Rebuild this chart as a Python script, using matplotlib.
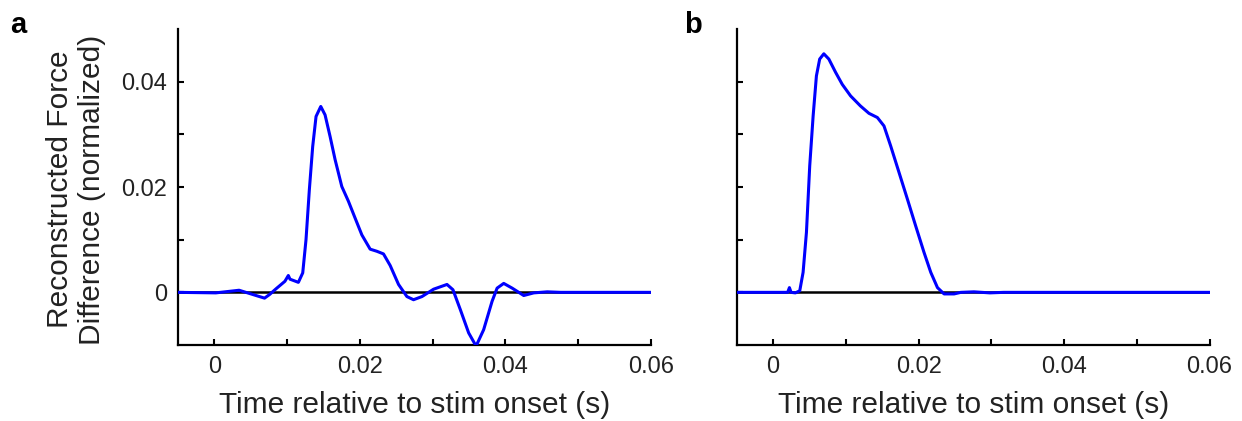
import numpy as np
import matplotlib
matplotlib.use('Agg')
import matplotlib.pyplot as plt

plt.rcParams['font.family'] = ['Liberation Sans', 'DejaVu Sans']

# ---------------------------------------------------------
# Datos (tiempo en s, fuerza normalizada)
# ---------------------------------------------------------
t_a = [-0.005, 0.0002, 0.0034, 0.0069, 0.0076, 0.0085, 0.0097, 0.01017, 0.0104,
       0.01155, 0.01215, 0.0126, 0.01306, 0.01352, 0.01398, 0.01463, 0.01522,
       0.01591, 0.0166, 0.01752, 0.01843, 0.01935, 0.02028, 0.02142, 0.02234,
       0.02325, 0.02417, 0.02532, 0.02647, 0.02738, 0.02854, 0.03014, 0.03198,
       0.0328, 0.03382, 0.03496, 0.03598, 0.03702, 0.03818, 0.03887, 0.03978,
       0.04094, 0.04253, 0.04391, 0.04576, 0.0476, 0.06]
f_a = [0.0, -0.0001, 0.0004, -0.0011, -0.0004, 0.0007, 0.0021, 0.0032, 0.0025,
       0.0019, 0.0037, 0.0100, 0.0195, 0.0277, 0.0334, 0.0353, 0.0337,
       0.0296, 0.0252, 0.0201, 0.0173, 0.0141, 0.0109, 0.0082, 0.0078,
       0.0073, 0.0051, 0.0015, -0.0008, -0.0014, -0.0008, 0.0006, 0.0015,
       0.0005, -0.0033, -0.0077, -0.0102, -0.0071, -0.0017, 0.0008, 0.0017,
       0.0008, -0.0006, -0.0001, 0.0001, 0.0, 0.0]

t_b = [-0.005, 0.0010, 0.0020, 0.00224, 0.00247, 0.00306, 0.00366, 0.00412,
       0.00458, 0.00503, 0.0055, 0.00595, 0.0064, 0.00697, 0.00766, 0.00858,
       0.0095, 0.01065, 0.012, 0.01317, 0.01433, 0.01524, 0.01616, 0.0173,
       0.01846, 0.0196, 0.02074, 0.02167, 0.02259, 0.0235, 0.02488, 0.0258,
       0.0276, 0.0298, 0.0317, 0.06]
f_b = [0.0, 0.0, 0.0, 0.0009, 0.0, -0.0001, 0.0003, 0.0038,
       0.0114, 0.0240, 0.0335, 0.0411, 0.0443, 0.0453, 0.0443, 0.0418,
       0.0395, 0.0373, 0.0354, 0.0340, 0.0332, 0.0316, 0.0278, 0.0228,
       0.0177, 0.0126, 0.0076, 0.0038, 0.0009, -0.0003, -0.0003, 0.0,
       0.0001, -0.0001, 0.0, 0.0]

xticks = [0, 0.02, 0.04, 0.06]
xlabels = ['0', '0.02', '0.04', '0.06']
yticks = [0, 0.02, 0.04]
ylabels = ['0', '0.02', '0.04']

fig = plt.figure(figsize=(12.42, 4.21), dpi=100)
ax_a = fig.add_axes([0.1433, 0.1805, 0.3807, 0.7505])
ax_b = fig.add_axes([0.5932, 0.1805, 0.3807, 0.7505])

for ax, t, f in [(ax_a, t_a, f_a), (ax_b, t_b, f_b)]:
    ax.axhline(0, color='black', lw=1.8, zorder=2)
    ax.plot(t, f, color='#0000ff', lw=2.2, zorder=3, solid_joinstyle='round')
    ax.set_xlim(-0.005, 0.06)
    ax.set_ylim(-0.01, 0.05)
    ax.spines['top'].set_visible(False)
    ax.spines['right'].set_visible(False)
    for s in ['left', 'bottom']:
        ax.spines[s].set_linewidth(1.6)
    ax.set_xticks(xticks)
    ax.set_xticklabels(xlabels)
    ax.set_xticks(np.arange(0.01, 0.06, 0.02), minor=True)
    ax.set_yticks(yticks)
    ax.set_yticks([0.01, 0.03], minor=True)
    ax.tick_params(which='both', direction='in', length=4, width=1.5,
                   labelsize=17, colors='black', labelcolor='#222222')
    ax.tick_params(axis='x', pad=8)
    ax.tick_params(axis='y', pad=8)
    ax.set_xlabel('Time relative to stim onset (s)', fontsize=21.5,
                  color='#222222', labelpad=9)

ax_a.set_yticklabels(ylabels)
ax_b.set_yticklabels([])

fig.text(76 / 1242, 0.55, 'Reconstructed Force\nDifference (normalized)',
         rotation=90, ha='center', va='center', fontsize=21.5,
         color='#222222', multialignment='center', linespacing=1.15)

fig.text(10 / 1242, 1 - 33 / 421, 'a', fontsize=21, fontweight='bold')
fig.text(684 / 1242, 1 - 33 / 421, 'b', fontsize=21, fontweight='bold')

fig.savefig('out.png', dpi=100)
